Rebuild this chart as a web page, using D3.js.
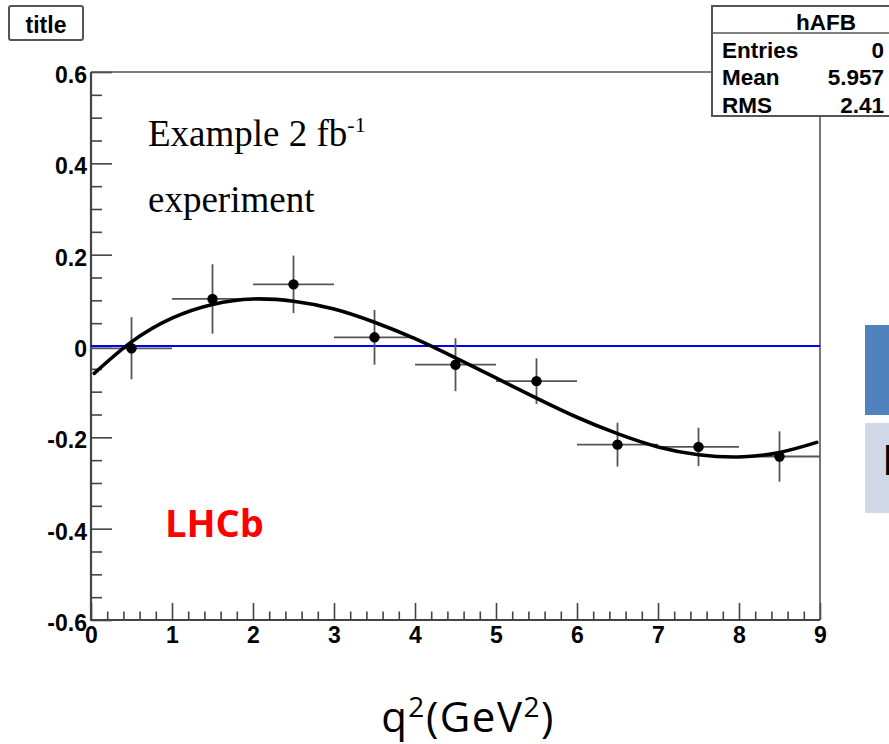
<!DOCTYPE html>
<html>
<head>
<meta charset="utf-8">
<script src="https://cdn.jsdelivr.net/npm/d3@7"></script>
<style>
  html, body { margin: 0; padding: 0; background: #fff; }
  svg { display: block; }
</style>
</head>
<body>
<svg id="chart" width="889" height="744"></svg>
<script>
// Forward-backward asymmetry per q^2 bin
const binEdgesLow  = [0, 1, 2, 3, 4, 5, 6, 7, 8];
const binEdgesHigh = [1, 2, 3, 4, 5, 6, 7, 8, 9];
const binCenters   = [0.5, 1.5, 2.5, 3.5, 4.5, 5.5, 6.5, 7.5, 8.5];
const afbValues    = [-0.005, 0.103, 0.135, 0.019, -0.041, -0.077, -0.216, -0.221, -0.242];
const afbErrors    = [0.068, 0.076, 0.063, 0.060, 0.058, 0.050, 0.048, 0.042, 0.055];

// Fitted curve, sampled along q^2
const fitX = [0.04, 0.5, 1, 1.5, 2, 2.5, 3, 3.5, 4, 4.5, 5, 5.5, 6, 6.5, 7, 7.5, 8, 8.5, 8.96];
const fitY = [-0.060, 0.009, 0.061, 0.091, 0.103, 0.098, 0.081, 0.052, 0.016, -0.026, -0.070,
              -0.114, -0.156, -0.192, -0.221, -0.238, -0.243, -0.233, -0.211];

// Zero reference line
const referenceLevel = [0];

// Axis ticks
const xMajorTicks = [0, 1, 2, 3, 4, 5, 6, 7, 8, 9];
const xTickLabels = ["0", "1", "2", "3", "4", "5", "6", "7", "8", "9"];
const yMajorTicks = [-0.6, -0.4, -0.2, 0, 0.2, 0.4, 0.6];
const yTickLabels = ["-0.6", "-0.4", "-0.2", "0", "0.2", "0.4", "0.6"];

// Statistics box
const statsTitle  = "hAFB";
const statsLabels = ["Entries", "Mean", "RMS"];
const statsValues = ["0", "5.957", "2.41"];

const svg = d3.select("#chart");
const frame = { left: 91, right: 820, top: 72, bottom: 620 };

const x = d3.scaleLinear().domain([0, 9]).range([frame.left, frame.right]);
const y = d3.scaleLinear().domain([-0.6, 0.6]).range([frame.bottom, frame.top]);

const labelFont = "'Liberation Sans', Arial, Helvetica, sans-serif";
const axisColor = "#444";

// Minor ticks
const xMinor = d3.range(0, 9.0001, 0.2).filter(v => Math.abs(v - Math.round(v)) > 1e-6);
const yMinor = d3.range(-0.6, 0.6001, 0.05).filter(v => Math.abs(v / 0.2 - Math.round(v / 0.2)) > 1e-6);

const gx = svg.append("g").attr("transform", `translate(0,${frame.bottom})`);
gx.call(d3.axisBottom(x).tickValues(xMinor).tickSize(-8.5).tickFormat(""));
gx.call(g => g.select(".domain").remove());
const gxMajor = svg.append("g").attr("transform", `translate(0,${frame.bottom})`);
gxMajor.call(d3.axisBottom(x).tickValues(xMajorTicks).tickSize(-17).tickPadding(6)
  .tickFormat((d, i) => xTickLabels[i]));
gxMajor.call(g => g.select(".domain").remove());

const gy = svg.append("g").attr("transform", `translate(${frame.left},0)`);
gy.call(d3.axisLeft(y).tickValues(yMinor).tickSize(-11).tickFormat(""));
gy.call(g => g.select(".domain").remove());
const gyMajor = svg.append("g").attr("transform", `translate(${frame.left},0)`);
gyMajor.call(d3.axisLeft(y).tickValues(yMajorTicks).tickSize(-21).tickPadding(4)
  .tickFormat((d, i) => yTickLabels[i]));
gyMajor.call(g => g.select(".domain").remove());

svg.selectAll(".tick line").attr("stroke", axisColor).attr("stroke-width", 1.6);
svg.selectAll(".tick text")
  .attr("font-family", labelFont).attr("font-weight", "bold")
  .attr("font-size", 23).attr("fill", "#000");
gyMajor.selectAll(".tick text").attr("dy", "0.45em");
gxMajor.selectAll(".tick text").attr("dy", "0.74em");

// Frame
svg.append("line").attr("x1", frame.left).attr("x2", frame.right)
  .attr("y1", frame.top).attr("y2", frame.top)
  .attr("stroke", "#555").attr("stroke-width", 1.3);
svg.append("line").attr("x1", frame.right).attr("x2", frame.right)
  .attr("y1", frame.top).attr("y2", frame.bottom)
  .attr("stroke", "#555").attr("stroke-width", 1.6);
svg.append("line").attr("x1", frame.left).attr("x2", frame.left)
  .attr("y1", frame.top).attr("y2", frame.bottom + 1)
  .attr("stroke", axisColor).attr("stroke-width", 2.2);
svg.append("line").attr("x1", frame.left).attr("x2", frame.right)
  .attr("y1", frame.bottom).attr("y2", frame.bottom)
  .attr("stroke", axisColor).attr("stroke-width", 2.2);

// Zero line
svg.selectAll(".ref").data(referenceLevel).enter().append("line")
  .attr("class", "ref")
  .attr("x1", x(0)).attr("x2", x(9))
  .attr("y1", d => y(d)).attr("y2", d => y(d))
  .attr("stroke", "#0000ff").attr("stroke-width", 2.2);

// Error bars
const pts = binCenters.map((c, i) => ({
  c, v: afbValues[i], e: afbErrors[i], lo: binEdgesLow[i], hi: binEdgesHigh[i]
}));
const eb = svg.append("g").attr("stroke", "#555").attr("stroke-width", 1.8);
eb.selectAll(".hbar").data(pts).enter().append("line")
  .attr("x1", d => x(d.lo)).attr("x2", d => x(d.hi))
  .attr("y1", d => y(d.v)).attr("y2", d => y(d.v));
eb.selectAll(".vbar").data(pts).enter().append("line")
  .attr("x1", d => x(d.c)).attr("x2", d => x(d.c))
  .attr("y1", d => y(d.v - d.e)).attr("y2", d => y(d.v + d.e));

// Fit curve
const fitLine = d3.line().x(d => x(d[0])).y(d => y(d[1])).curve(d3.curveNatural);
svg.append("path")
  .datum(fitX.map((v, i) => [v, fitY[i]]))
  .attr("d", fitLine)
  .attr("fill", "none").attr("stroke", "#000").attr("stroke-width", 3.6)
  .attr("stroke-linecap", "round");

// Markers
svg.selectAll(".pt").data(pts).enter().append("circle")
  .attr("cx", d => x(d.c)).attr("cy", d => y(d.v)).attr("r", 5.2).attr("fill", "#000");

// Title box
svg.append("rect").attr("x", 9).attr("y", 6).attr("width", 74).attr("height", 34)
  .attr("rx", 2).attr("fill", "#fff").attr("stroke", "#555").attr("stroke-width", 2);
svg.append("text").attr("x", 46).attr("y", 33).attr("text-anchor", "middle")
  .attr("font-family", labelFont).attr("font-weight", "bold").attr("font-size", 23)
  .text("title");

// Statistics box
svg.append("rect").attr("x", 712).attr("y", 6).attr("width", 240).attr("height", 110)
  .attr("fill", "#fff").attr("stroke", "#555").attr("stroke-width", 2);
svg.append("line").attr("x1", 712).attr("x2", 889).attr("y1", 33).attr("y2", 33)
  .attr("stroke", "#555").attr("stroke-width", 1.5);
svg.append("text").attr("x", 826).attr("y", 30).attr("text-anchor", "middle")
  .attr("font-family", labelFont).attr("font-weight", "bold").attr("font-size", 22.5)
  .text(statsTitle);
statsLabels.forEach((lab, i) => {
  const by = 57.5 + i * 27.5;
  svg.append("text").attr("x", 722).attr("y", by)
    .attr("font-family", labelFont).attr("font-weight", "bold").attr("font-size", 22.5)
    .text(lab);
  svg.append("text").attr("x", 884).attr("y", by).attr("text-anchor", "end")
    .attr("font-family", labelFont).attr("font-weight", "bold").attr("font-size", 22.5)
    .text(statsValues[i]);
});

// Annotations
const serif = "'Liberation Serif', 'Times New Roman', serif";
const ex = svg.append("text").attr("x", 148).attr("y", 146)
  .attr("font-family", serif).attr("font-size", 37).attr("fill", "#000");
ex.append("tspan").text("Example 2 fb");
ex.append("tspan").attr("dy", -14).attr("font-size", 22).text("-1");
svg.append("text").attr("x", 148).attr("y", 212)
  .attr("font-family", serif).attr("font-size", 37).attr("fill", "#000")
  .text("experiment");

svg.append("text").attr("x", 165).attr("y", 537)
  .attr("font-family", "'Open Sans', sans-serif").attr("font-weight", "bold")
  .attr("font-size", 38).attr("fill", "#ff0000")
  .text("LHCb");

// Side panels
svg.append("rect").attr("x", 865).attr("y", 325).attr("width", 30).attr("height", 90)
  .attr("fill", "#4f81bd");
svg.append("rect").attr("x", 865).attr("y", 423).attr("width", 30).attr("height", 90)
  .attr("fill", "#d0d8e8");
svg.append("text").attr("x", 882).attr("y", 475)
  .attr("font-family", "'Open Sans', sans-serif").attr("font-size", 42).attr("fill", "#000")
  .text("E");

// Axis title
const xt = svg.append("text").attr("x", 468).attr("y", 732).attr("text-anchor", "middle")
  .attr("font-family", "'Open Sans', 'DejaVu Sans', sans-serif").attr("font-size", 42)
  .attr("letter-spacing", 1.5).attr("fill", "#000");
xt.append("tspan").text("q");
xt.append("tspan").attr("dy", -15).attr("font-size", 28).text("2");
xt.append("tspan").attr("dy", 15).text("(GeV");
xt.append("tspan").attr("dy", -15).attr("font-size", 28).text("2");
xt.append("tspan").attr("dy", 15).text(")");
</script>
</body>
</html>
